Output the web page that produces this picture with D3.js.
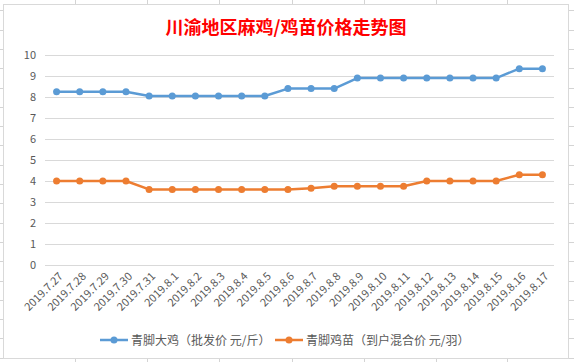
<!DOCTYPE html>
<html>
<head>
<meta charset="utf-8">
<script src="https://cdn.jsdelivr.net/npm/d3@7"></script>
<style>
  body { margin: 0; background: #fff; }
  svg { display: block; }
</style>
</head>
<body>
<div id="grafico"></div>
<script>
// Datos
const fechas = ["2019.7.27", "2019.7.28", "2019.7.29", "2019.7.30", "2019.7.31",
  "2019.8.1", "2019.8.2", "2019.8.3", "2019.8.4", "2019.8.5", "2019.8.6",
  "2019.8.7", "2019.8.8", "2019.8.9", "2019.8.10", "2019.8.11", "2019.8.12",
  "2019.8.13", "2019.8.14", "2019.8.15", "2019.8.16", "2019.8.17"];

const dajiPrecio = [8.25, 8.25, 8.25, 8.25, 8.05, 8.05, 8.05, 8.05, 8.05, 8.05,
  8.4, 8.4, 8.4, 8.9, 8.9, 8.9, 8.9, 8.9, 8.9, 8.9, 9.35, 9.35];

const jimiaoPrecio = [4.0, 4.0, 4.0, 4.0, 3.6, 3.6, 3.6, 3.6, 3.6, 3.6,
  3.6, 3.65, 3.75, 3.75, 3.75, 3.75, 4.0, 4.0, 4.0, 4.0, 4.3, 4.3];

const ticksY = [0, 1, 2, 3, 4, 5, 6, 7, 8, 9, 10];

const titulo = "川渝地区麻鸡/鸡苗价格走势图";
const nombres = ["青脚大鸡（批发价 元/斤）", "青脚鸡苗（到户混合价 元/羽）"];
const colores = ["#5b9bd5", "#ed7d31"];

const width = 574, height = 362;
const fuente = "'Noto Sans CJK SC', 'Microsoft YaHei', sans-serif";

const svg = d3.select('#grafico')
  .append('svg')
  .attr('width', width)
  .attr('height', height);

// fondo de hoja de cálculo
const hoja = svg.append('g').attr('stroke', '#d4d4d4').attr('stroke-width', 1);
[75, 147, 219, 292, 364, 436, 507].forEach(x => {
  hoja.append('line').attr('x1', x + 0.5).attr('x2', x + 0.5).attr('y1', 0).attr('y2', height);
});
d3.range(-9, 362, 19.3).forEach(y => {
  hoja.append('line').attr('x1', 0).attr('x2', width)
    .attr('y1', Math.round(y) + 0.5).attr('y2', Math.round(y) + 0.5);
});

// área del gráfico
svg.append('rect')
  .attr('x', 3.5).attr('y', 4.5)
  .attr('width', 565).attr('height', 354)
  .attr('fill', '#fff')
  .attr('stroke', '#d9d9d9');

// título
svg.append('text')
  .attr('x', 286).attr('y', 34)
  .attr('text-anchor', 'middle')
  .attr('font-family', fuente)
  .attr('font-size', 18)
  .attr('font-weight', 'bold')
  .attr('fill', '#ff0000')
  .text(titulo);

const margin = { left: 45, right: 20, top: 55, bottom: 97 };

const x = d3.scaleBand()
  .domain(fechas)
  .range([margin.left, width - margin.right]);

const y = d3.scaleLinear()
  .domain([0, 10])
  .range([height - margin.bottom, margin.top]);

// rejilla
svg.append('g')
  .selectAll('line')
  .data(ticksY)
  .join('line')
  .attr('x1', margin.left).attr('x2', width - margin.right)
  .attr('y1', d => Math.round(y(d)) + 0.5)
  .attr('y2', d => Math.round(y(d)) + 0.5)
  .attr('stroke', '#d9d9d9');

// eje Y
const ejeY = svg.append('g')
  .attr('transform', `translate(${margin.left - 9}, 0)`)
  .call(d3.axisLeft(y).tickValues(ticksY).tickSize(0).tickPadding(0));
ejeY.select('.domain').remove();
ejeY.selectAll('text')
  .attr('font-family', fuente)
  .attr('font-size', 11)
  .attr('fill', '#595959');

// eje X
const ejeX = svg.append('g')
  .attr('transform', `translate(0, ${y(0)})`)
  .call(d3.axisBottom(x).tickSize(0).tickPadding(0));
ejeX.select('.domain').remove();
ejeX.selectAll('text')
  .attr('font-family', fuente)
  .attr('font-size', 11)
  .attr('fill', '#595959')
  .attr('text-anchor', 'end')
  .attr('dy', 0)
  .attr('transform', 'translate(7, 12) rotate(-45)');

// líneas
const series = [dajiPrecio, jimiaoPrecio];
const cx = d => x(d) + x.bandwidth() / 2;

const linea = d3.line()
  .x((d, i) => cx(fechas[i]))
  .y(d => y(d));

series.forEach((serie, k) => {
  svg.append('path')
    .datum(serie)
    .attr('d', linea)
    .attr('fill', 'none')
    .attr('stroke', colores[k])
    .attr('stroke-width', 2.5)
    .attr('stroke-linejoin', 'round');

  svg.append('g')
    .selectAll('circle')
    .data(serie)
    .join('circle')
    .attr('cx', (d, i) => cx(fechas[i]))
    .attr('cy', d => y(d))
    .attr('r', 3.5)
    .attr('fill', colores[k]);
});

// leyenda
const leyendaX = [100, 275];
nombres.forEach((n, k) => {
  const g = svg.append('g').attr('transform', `translate(${leyendaX[k]}, 340)`);
  g.append('line')
    .attr('x1', 0).attr('x2', 28)
    .attr('stroke', colores[k]).attr('stroke-width', 2.5);
  g.append('circle')
    .attr('cx', 14).attr('r', 3.5).attr('fill', colores[k]);
  g.append('text')
    .attr('x', 31).attr('y', 4.5)
    .attr('font-family', fuente)
    .attr('font-size', 12)
    .attr('fill', '#595959')
    .text(n);
});
</script>
</body>
</html>
